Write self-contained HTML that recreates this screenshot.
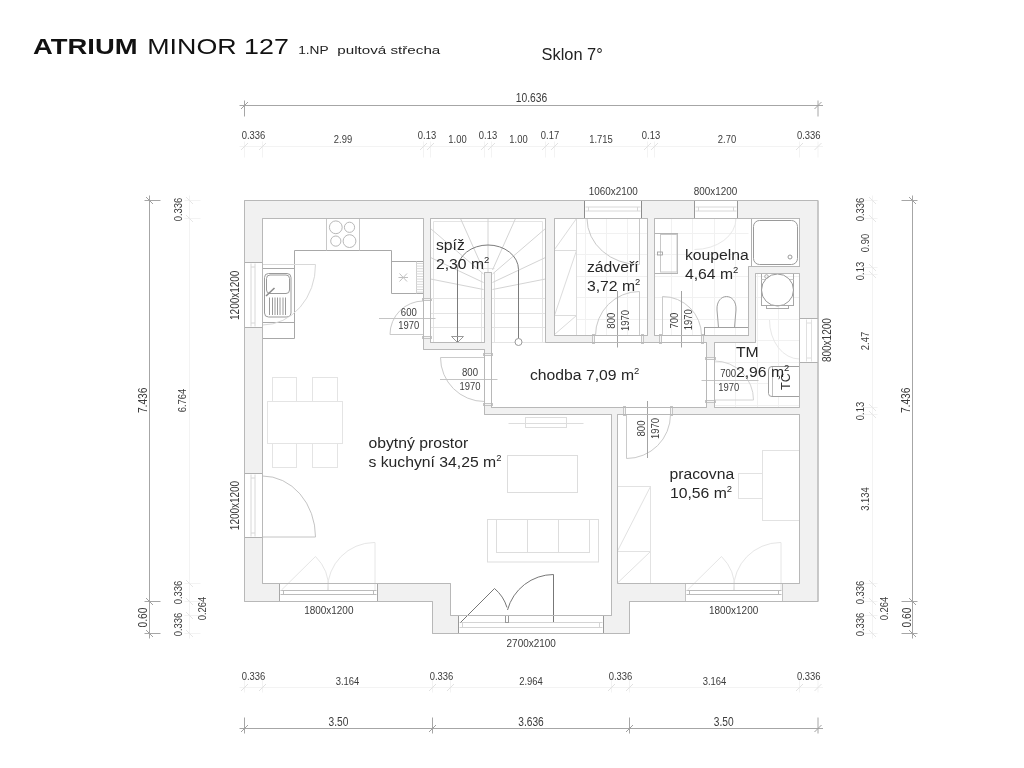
<!DOCTYPE html>
<html><head><meta charset="utf-8"><style>
html,body{margin:0;padding:0;background:#fff;width:1024px;height:768px;overflow:hidden}
svg{display:block;font-family:"Liberation Sans", sans-serif}
</style></head><body>
<div style="will-change:transform;width:1024px;height:768px"><svg width="1024" height="768" viewBox="0 0 1024 768">
<text x="33" y="54" font-size="22" text-anchor="start" fill="#111" font-weight="bold" textLength="104.5" lengthAdjust="spacingAndGlyphs">ATRIUM</text>
<text x="147.3" y="54.2" font-size="22" text-anchor="start" fill="#111" font-weight="normal" textLength="141.5" lengthAdjust="spacingAndGlyphs">MINOR 127</text>
<text x="298.2" y="54" font-size="11.8" text-anchor="start" fill="#222" font-weight="normal" textLength="30.5" lengthAdjust="spacingAndGlyphs">1.NP</text>
<text x="337.3" y="54" font-size="11.8" text-anchor="start" fill="#222" font-weight="normal" textLength="103" lengthAdjust="spacingAndGlyphs">pultová střecha</text>
<text x="541.5" y="59.8" font-size="16.4" text-anchor="start" fill="#222" font-weight="normal">Sklon 7°</text>
<line x1="239.5" y1="105.5" x2="823" y2="105.5" stroke="#a6a6a6" stroke-width="1"/>
<line x1="244.5" y1="100.5" x2="244.5" y2="116.5" stroke="#a6a6a6" stroke-width="1"/>
<line x1="241.0" y1="109.0" x2="248.0" y2="102.0" stroke="#a0a0a0" stroke-width="1"/>
<line x1="818" y1="100.5" x2="818" y2="116.5" stroke="#a6a6a6" stroke-width="1"/>
<line x1="814.5" y1="109.0" x2="821.5" y2="102.0" stroke="#a0a0a0" stroke-width="1"/>
<text x="531.5" y="102.3" font-size="12" text-anchor="middle" fill="#3c3c3c" font-weight="normal" textLength="31.5" lengthAdjust="spacingAndGlyphs">10.636</text>
<line x1="239.5" y1="146.5" x2="823" y2="146.5" stroke="#f3f3f3" stroke-width="1"/>
<line x1="244.5" y1="141.5" x2="244.5" y2="157.5" stroke="#f3f3f3" stroke-width="1"/>
<line x1="241.0" y1="150.0" x2="248.0" y2="143.0" stroke="#e2e2e2" stroke-width="1"/>
<line x1="262.5" y1="141.5" x2="262.5" y2="157.5" stroke="#f3f3f3" stroke-width="1"/>
<line x1="259.0" y1="150.0" x2="266.0" y2="143.0" stroke="#e2e2e2" stroke-width="1"/>
<line x1="423.5" y1="141.5" x2="423.5" y2="157.5" stroke="#f3f3f3" stroke-width="1"/>
<line x1="420.0" y1="150.0" x2="427.0" y2="143.0" stroke="#e2e2e2" stroke-width="1"/>
<line x1="430.5" y1="141.5" x2="430.5" y2="157.5" stroke="#f3f3f3" stroke-width="1"/>
<line x1="427.0" y1="150.0" x2="434.0" y2="143.0" stroke="#e2e2e2" stroke-width="1"/>
<line x1="484.5" y1="141.5" x2="484.5" y2="157.5" stroke="#f3f3f3" stroke-width="1"/>
<line x1="481.0" y1="150.0" x2="488.0" y2="143.0" stroke="#e2e2e2" stroke-width="1"/>
<line x1="491.5" y1="141.5" x2="491.5" y2="157.5" stroke="#f3f3f3" stroke-width="1"/>
<line x1="488.0" y1="150.0" x2="495.0" y2="143.0" stroke="#e2e2e2" stroke-width="1"/>
<line x1="545.5" y1="141.5" x2="545.5" y2="157.5" stroke="#f3f3f3" stroke-width="1"/>
<line x1="542.0" y1="150.0" x2="549.0" y2="143.0" stroke="#e2e2e2" stroke-width="1"/>
<line x1="554.5" y1="141.5" x2="554.5" y2="157.5" stroke="#f3f3f3" stroke-width="1"/>
<line x1="551.0" y1="150.0" x2="558.0" y2="143.0" stroke="#e2e2e2" stroke-width="1"/>
<line x1="647.5" y1="141.5" x2="647.5" y2="157.5" stroke="#f3f3f3" stroke-width="1"/>
<line x1="644.0" y1="150.0" x2="651.0" y2="143.0" stroke="#e2e2e2" stroke-width="1"/>
<line x1="654.5" y1="141.5" x2="654.5" y2="157.5" stroke="#f3f3f3" stroke-width="1"/>
<line x1="651.0" y1="150.0" x2="658.0" y2="143.0" stroke="#e2e2e2" stroke-width="1"/>
<line x1="799.5" y1="141.5" x2="799.5" y2="157.5" stroke="#f3f3f3" stroke-width="1"/>
<line x1="796.0" y1="150.0" x2="803.0" y2="143.0" stroke="#e2e2e2" stroke-width="1"/>
<line x1="818" y1="141.5" x2="818" y2="157.5" stroke="#f3f3f3" stroke-width="1"/>
<line x1="814.5" y1="150.0" x2="821.5" y2="143.0" stroke="#e2e2e2" stroke-width="1"/>
<text x="253.5" y="138.5" font-size="11" text-anchor="middle" fill="#3c3c3c" font-weight="normal" textLength="23.6" lengthAdjust="spacingAndGlyphs">0.336</text>
<text x="343.0" y="143" font-size="11" text-anchor="middle" fill="#3c3c3c" font-weight="normal" textLength="18.3" lengthAdjust="spacingAndGlyphs">2.99</text>
<text x="427.0" y="138.5" font-size="11" text-anchor="middle" fill="#3c3c3c" font-weight="normal" textLength="18.3" lengthAdjust="spacingAndGlyphs">0.13</text>
<text x="457.5" y="143" font-size="11" text-anchor="middle" fill="#3c3c3c" font-weight="normal" textLength="18.3" lengthAdjust="spacingAndGlyphs">1.00</text>
<text x="488.0" y="138.5" font-size="11" text-anchor="middle" fill="#3c3c3c" font-weight="normal" textLength="18.3" lengthAdjust="spacingAndGlyphs">0.13</text>
<text x="518.5" y="143" font-size="11" text-anchor="middle" fill="#3c3c3c" font-weight="normal" textLength="18.3" lengthAdjust="spacingAndGlyphs">1.00</text>
<text x="550.0" y="138.5" font-size="11" text-anchor="middle" fill="#3c3c3c" font-weight="normal" textLength="18.3" lengthAdjust="spacingAndGlyphs">0.17</text>
<text x="601.0" y="143" font-size="11" text-anchor="middle" fill="#3c3c3c" font-weight="normal" textLength="23.6" lengthAdjust="spacingAndGlyphs">1.715</text>
<text x="651.0" y="138.5" font-size="11" text-anchor="middle" fill="#3c3c3c" font-weight="normal" textLength="18.3" lengthAdjust="spacingAndGlyphs">0.13</text>
<text x="727.0" y="143" font-size="11" text-anchor="middle" fill="#3c3c3c" font-weight="normal" textLength="18.3" lengthAdjust="spacingAndGlyphs">2.70</text>
<text x="808.75" y="138.5" font-size="11" text-anchor="middle" fill="#3c3c3c" font-weight="normal" textLength="23.6" lengthAdjust="spacingAndGlyphs">0.336</text>
<line x1="239.5" y1="687.5" x2="823" y2="687.5" stroke="#f3f3f3" stroke-width="1"/>
<line x1="244.5" y1="676.5" x2="244.5" y2="692.5" stroke="#f3f3f3" stroke-width="1"/>
<line x1="241.0" y1="691.0" x2="248.0" y2="684.0" stroke="#e2e2e2" stroke-width="1"/>
<line x1="262.5" y1="676.5" x2="262.5" y2="692.5" stroke="#f3f3f3" stroke-width="1"/>
<line x1="259.0" y1="691.0" x2="266.0" y2="684.0" stroke="#e2e2e2" stroke-width="1"/>
<line x1="432.5" y1="676.5" x2="432.5" y2="692.5" stroke="#f3f3f3" stroke-width="1"/>
<line x1="429.0" y1="691.0" x2="436.0" y2="684.0" stroke="#e2e2e2" stroke-width="1"/>
<line x1="450.5" y1="676.5" x2="450.5" y2="692.5" stroke="#f3f3f3" stroke-width="1"/>
<line x1="447.0" y1="691.0" x2="454.0" y2="684.0" stroke="#e2e2e2" stroke-width="1"/>
<line x1="611.5" y1="676.5" x2="611.5" y2="692.5" stroke="#f3f3f3" stroke-width="1"/>
<line x1="608.0" y1="691.0" x2="615.0" y2="684.0" stroke="#e2e2e2" stroke-width="1"/>
<line x1="629.5" y1="676.5" x2="629.5" y2="692.5" stroke="#f3f3f3" stroke-width="1"/>
<line x1="626.0" y1="691.0" x2="633.0" y2="684.0" stroke="#e2e2e2" stroke-width="1"/>
<line x1="799.5" y1="676.5" x2="799.5" y2="692.5" stroke="#f3f3f3" stroke-width="1"/>
<line x1="796.0" y1="691.0" x2="803.0" y2="684.0" stroke="#e2e2e2" stroke-width="1"/>
<line x1="818" y1="676.5" x2="818" y2="692.5" stroke="#f3f3f3" stroke-width="1"/>
<line x1="814.5" y1="691.0" x2="821.5" y2="684.0" stroke="#e2e2e2" stroke-width="1"/>
<text x="253.5" y="680.4" font-size="11" text-anchor="middle" fill="#3c3c3c" font-weight="normal" textLength="23.6" lengthAdjust="spacingAndGlyphs">0.336</text>
<text x="347.5" y="685.1" font-size="11" text-anchor="middle" fill="#3c3c3c" font-weight="normal" textLength="23.6" lengthAdjust="spacingAndGlyphs">3.164</text>
<text x="441.5" y="680.4" font-size="11" text-anchor="middle" fill="#3c3c3c" font-weight="normal" textLength="23.6" lengthAdjust="spacingAndGlyphs">0.336</text>
<text x="531.0" y="685.1" font-size="11" text-anchor="middle" fill="#3c3c3c" font-weight="normal" textLength="23.6" lengthAdjust="spacingAndGlyphs">2.964</text>
<text x="620.5" y="680.4" font-size="11" text-anchor="middle" fill="#3c3c3c" font-weight="normal" textLength="23.6" lengthAdjust="spacingAndGlyphs">0.336</text>
<text x="714.5" y="685.1" font-size="11" text-anchor="middle" fill="#3c3c3c" font-weight="normal" textLength="23.6" lengthAdjust="spacingAndGlyphs">3.164</text>
<text x="808.75" y="680.4" font-size="11" text-anchor="middle" fill="#3c3c3c" font-weight="normal" textLength="23.6" lengthAdjust="spacingAndGlyphs">0.336</text>
<line x1="239.5" y1="728.5" x2="823" y2="728.5" stroke="#a6a6a6" stroke-width="1"/>
<line x1="244.5" y1="717.5" x2="244.5" y2="733.5" stroke="#a6a6a6" stroke-width="1"/>
<line x1="241.0" y1="732.0" x2="248.0" y2="725.0" stroke="#a0a0a0" stroke-width="1"/>
<line x1="432.5" y1="717.5" x2="432.5" y2="733.5" stroke="#a6a6a6" stroke-width="1"/>
<line x1="429.0" y1="732.0" x2="436.0" y2="725.0" stroke="#a0a0a0" stroke-width="1"/>
<line x1="629.5" y1="717.5" x2="629.5" y2="733.5" stroke="#a6a6a6" stroke-width="1"/>
<line x1="626.0" y1="732.0" x2="633.0" y2="725.0" stroke="#a0a0a0" stroke-width="1"/>
<line x1="818" y1="717.5" x2="818" y2="733.5" stroke="#a6a6a6" stroke-width="1"/>
<line x1="814.5" y1="732.0" x2="821.5" y2="725.0" stroke="#a0a0a0" stroke-width="1"/>
<text x="338.5" y="725.8" font-size="12" text-anchor="middle" fill="#3c3c3c" font-weight="normal" textLength="19.8" lengthAdjust="spacingAndGlyphs">3.50</text>
<text x="531.0" y="725.8" font-size="12" text-anchor="middle" fill="#3c3c3c" font-weight="normal" textLength="25.5" lengthAdjust="spacingAndGlyphs">3.636</text>
<text x="723.75" y="725.8" font-size="12" text-anchor="middle" fill="#3c3c3c" font-weight="normal" textLength="19.8" lengthAdjust="spacingAndGlyphs">3.50</text>
<line x1="189.5" y1="195.5" x2="189.5" y2="638.5" stroke="#f3f3f3" stroke-width="1"/>
<line x1="184.5" y1="200.5" x2="200.5" y2="200.5" stroke="#f3f3f3" stroke-width="1"/>
<line x1="186.0" y1="197.0" x2="193.0" y2="204.0" stroke="#e6e6e6" stroke-width="1"/>
<line x1="184.5" y1="218.5" x2="200.5" y2="218.5" stroke="#f3f3f3" stroke-width="1"/>
<line x1="186.0" y1="215.0" x2="193.0" y2="222.0" stroke="#e6e6e6" stroke-width="1"/>
<line x1="184.5" y1="583.5" x2="200.5" y2="583.5" stroke="#f3f3f3" stroke-width="1"/>
<line x1="186.0" y1="580.0" x2="193.0" y2="587.0" stroke="#e6e6e6" stroke-width="1"/>
<line x1="184.5" y1="601.5" x2="200.5" y2="601.5" stroke="#f3f3f3" stroke-width="1"/>
<line x1="186.0" y1="598.0" x2="193.0" y2="605.0" stroke="#e6e6e6" stroke-width="1"/>
<line x1="184.5" y1="615.5" x2="200.5" y2="615.5" stroke="#f3f3f3" stroke-width="1"/>
<line x1="186.0" y1="612.0" x2="193.0" y2="619.0" stroke="#e6e6e6" stroke-width="1"/>
<line x1="184.5" y1="633.5" x2="200.5" y2="633.5" stroke="#f3f3f3" stroke-width="1"/>
<line x1="186.0" y1="630.0" x2="193.0" y2="637.0" stroke="#e6e6e6" stroke-width="1"/>
<line x1="149.5" y1="195.5" x2="149.5" y2="638.5" stroke="#a6a6a6" stroke-width="1"/>
<line x1="144.5" y1="200.5" x2="160.5" y2="200.5" stroke="#a6a6a6" stroke-width="1"/>
<line x1="146.0" y1="197.0" x2="153.0" y2="204.0" stroke="#a0a0a0" stroke-width="1"/>
<line x1="144.5" y1="601.5" x2="160.5" y2="601.5" stroke="#a6a6a6" stroke-width="1"/>
<line x1="146.0" y1="598.0" x2="153.0" y2="605.0" stroke="#a0a0a0" stroke-width="1"/>
<line x1="144.5" y1="633.5" x2="160.5" y2="633.5" stroke="#a6a6a6" stroke-width="1"/>
<line x1="146.0" y1="630.0" x2="153.0" y2="637.0" stroke="#a0a0a0" stroke-width="1"/>
<text x="0" y="0" font-size="12" text-anchor="middle" fill="#3c3c3c" textLength="25.5" lengthAdjust="spacingAndGlyphs" transform="translate(142.7,400.3) rotate(-90)" dy="4.32">7.436</text>
<text x="0" y="0" font-size="12" text-anchor="middle" fill="#3c3c3c" textLength="19.8" lengthAdjust="spacingAndGlyphs" transform="translate(142.7,617.5) rotate(-90)" dy="4.32">0.60</text>
<text x="0" y="0" font-size="11" text-anchor="middle" fill="#3c3c3c" textLength="23.6" lengthAdjust="spacingAndGlyphs" transform="translate(178,209.5) rotate(-90)" dy="3.96">0.336</text>
<text x="0" y="0" font-size="11" text-anchor="middle" fill="#3c3c3c" textLength="23.6" lengthAdjust="spacingAndGlyphs" transform="translate(182.5,400.5) rotate(-90)" dy="3.96">6.764</text>
<text x="0" y="0" font-size="11" text-anchor="middle" fill="#3c3c3c" textLength="23.6" lengthAdjust="spacingAndGlyphs" transform="translate(178,592.5) rotate(-90)" dy="3.96">0.336</text>
<text x="0" y="0" font-size="11" text-anchor="middle" fill="#3c3c3c" textLength="23.6" lengthAdjust="spacingAndGlyphs" transform="translate(202.5,608.5) rotate(-90)" dy="3.96">0.264</text>
<text x="0" y="0" font-size="11" text-anchor="middle" fill="#3c3c3c" textLength="23.6" lengthAdjust="spacingAndGlyphs" transform="translate(178,624.5) rotate(-90)" dy="3.96">0.336</text>
<line x1="872.5" y1="195.5" x2="872.5" y2="638.5" stroke="#f3f3f3" stroke-width="1"/>
<line x1="861.5" y1="200.5" x2="877.5" y2="200.5" stroke="#f3f3f3" stroke-width="1"/>
<line x1="869.0" y1="197.0" x2="876.0" y2="204.0" stroke="#e6e6e6" stroke-width="1"/>
<line x1="861.5" y1="218.5" x2="877.5" y2="218.5" stroke="#f3f3f3" stroke-width="1"/>
<line x1="869.0" y1="215.0" x2="876.0" y2="222.0" stroke="#e6e6e6" stroke-width="1"/>
<line x1="861.5" y1="267.5" x2="877.5" y2="267.5" stroke="#f3f3f3" stroke-width="1"/>
<line x1="869.0" y1="264.0" x2="876.0" y2="271.0" stroke="#e6e6e6" stroke-width="1"/>
<line x1="861.5" y1="274.5" x2="877.5" y2="274.5" stroke="#f3f3f3" stroke-width="1"/>
<line x1="869.0" y1="271.0" x2="876.0" y2="278.0" stroke="#e6e6e6" stroke-width="1"/>
<line x1="861.5" y1="407.5" x2="877.5" y2="407.5" stroke="#f3f3f3" stroke-width="1"/>
<line x1="869.0" y1="404.0" x2="876.0" y2="411.0" stroke="#e6e6e6" stroke-width="1"/>
<line x1="861.5" y1="414.5" x2="877.5" y2="414.5" stroke="#f3f3f3" stroke-width="1"/>
<line x1="869.0" y1="411.0" x2="876.0" y2="418.0" stroke="#e6e6e6" stroke-width="1"/>
<line x1="861.5" y1="583.5" x2="877.5" y2="583.5" stroke="#f3f3f3" stroke-width="1"/>
<line x1="869.0" y1="580.0" x2="876.0" y2="587.0" stroke="#e6e6e6" stroke-width="1"/>
<line x1="861.5" y1="601.5" x2="877.5" y2="601.5" stroke="#f3f3f3" stroke-width="1"/>
<line x1="869.0" y1="598.0" x2="876.0" y2="605.0" stroke="#e6e6e6" stroke-width="1"/>
<line x1="861.5" y1="615.5" x2="877.5" y2="615.5" stroke="#f3f3f3" stroke-width="1"/>
<line x1="869.0" y1="612.0" x2="876.0" y2="619.0" stroke="#e6e6e6" stroke-width="1"/>
<line x1="861.5" y1="633.5" x2="877.5" y2="633.5" stroke="#f3f3f3" stroke-width="1"/>
<line x1="869.0" y1="630.0" x2="876.0" y2="637.0" stroke="#e6e6e6" stroke-width="1"/>
<line x1="912.5" y1="195.5" x2="912.5" y2="638.5" stroke="#a6a6a6" stroke-width="1"/>
<line x1="901.5" y1="200.5" x2="917.5" y2="200.5" stroke="#a6a6a6" stroke-width="1"/>
<line x1="909.0" y1="197.0" x2="916.0" y2="204.0" stroke="#a0a0a0" stroke-width="1"/>
<line x1="901.5" y1="601.5" x2="917.5" y2="601.5" stroke="#a6a6a6" stroke-width="1"/>
<line x1="909.0" y1="598.0" x2="916.0" y2="605.0" stroke="#a0a0a0" stroke-width="1"/>
<line x1="901.5" y1="633.5" x2="917.5" y2="633.5" stroke="#a6a6a6" stroke-width="1"/>
<line x1="909.0" y1="630.0" x2="916.0" y2="637.0" stroke="#a0a0a0" stroke-width="1"/>
<text x="0" y="0" font-size="12" text-anchor="middle" fill="#3c3c3c" textLength="25.5" lengthAdjust="spacingAndGlyphs" transform="translate(905.7,400.3) rotate(-90)" dy="4.32">7.436</text>
<text x="0" y="0" font-size="12" text-anchor="middle" fill="#3c3c3c" textLength="19.8" lengthAdjust="spacingAndGlyphs" transform="translate(906.2,617.5) rotate(-90)" dy="4.32">0.60</text>
<text x="0" y="0" font-size="11" text-anchor="middle" fill="#3c3c3c" textLength="23.6" lengthAdjust="spacingAndGlyphs" transform="translate(860.5,209.5) rotate(-90)" dy="3.96">0.336</text>
<text x="0" y="0" font-size="11" text-anchor="middle" fill="#3c3c3c" textLength="18.3" lengthAdjust="spacingAndGlyphs" transform="translate(865,243.0) rotate(-90)" dy="3.96">0.90</text>
<text x="0" y="0" font-size="11" text-anchor="middle" fill="#3c3c3c" textLength="18.3" lengthAdjust="spacingAndGlyphs" transform="translate(860.5,271.0) rotate(-90)" dy="3.96">0.13</text>
<text x="0" y="0" font-size="11" text-anchor="middle" fill="#3c3c3c" textLength="18.3" lengthAdjust="spacingAndGlyphs" transform="translate(865,341.0) rotate(-90)" dy="3.96">2.47</text>
<text x="0" y="0" font-size="11" text-anchor="middle" fill="#3c3c3c" textLength="18.3" lengthAdjust="spacingAndGlyphs" transform="translate(860.5,411.0) rotate(-90)" dy="3.96">0.13</text>
<text x="0" y="0" font-size="11" text-anchor="middle" fill="#3c3c3c" textLength="23.6" lengthAdjust="spacingAndGlyphs" transform="translate(865,499.0) rotate(-90)" dy="3.96">3.134</text>
<text x="0" y="0" font-size="11" text-anchor="middle" fill="#3c3c3c" textLength="23.6" lengthAdjust="spacingAndGlyphs" transform="translate(860.5,592.5) rotate(-90)" dy="3.96">0.336</text>
<text x="0" y="0" font-size="11" text-anchor="middle" fill="#3c3c3c" textLength="23.6" lengthAdjust="spacingAndGlyphs" transform="translate(860.5,624.5) rotate(-90)" dy="3.96">0.336</text>
<text x="0" y="0" font-size="11" text-anchor="middle" fill="#3c3c3c" textLength="23.6" lengthAdjust="spacingAndGlyphs" transform="translate(884,608.5) rotate(-90)" dy="3.96">0.264</text>
<polygon points="244.5,200.5 818,200.5 818,601.5 629.5,601.5 629.5,633.5 432.5,633.5 432.5,601.5 244.5,601.5" fill="#f1f1f1" stroke="#b8b8b8" stroke-width="1"/>
<polygon points="262.5,218.5 423.5,218.5 423.5,349.5 484.5,349.5 484.5,414.5 611.5,414.5 611.5,615.5 450.5,615.5 450.5,583.5 262.5,583.5" fill="#fff" stroke="#b8b8b8" stroke-width="1"/>
<polygon points="430.5,218.5 545.5,218.5 545.5,342.5 706.5,342.5 706.5,407.5 491.5,407.5 491.5,272.5 484.5,272.5 484.5,342.5 430.5,342.5" fill="#fff" stroke="#b8b8b8" stroke-width="1"/>
<polygon points="554.5,218.5 647.5,218.5 647.5,335.5 554.5,335.5" fill="#fff" stroke="#b8b8b8" stroke-width="1"/>
<polygon points="654.5,218.5 799.5,218.5 799.5,266.5 748.5,266.5 748.5,335.5 654.5,335.5" fill="#fff" stroke="#b8b8b8" stroke-width="1"/>
<polygon points="755.5,273.5 799.5,273.5 799.5,407.5 714.5,407.5 714.5,342.5 755.5,342.5" fill="#fff" stroke="#b8b8b8" stroke-width="1"/>
<polygon points="617.5,414.5 799.5,414.5 799.5,583.5 617.5,583.5" fill="#fff" stroke="#b8b8b8" stroke-width="1"/>
<rect x="245.0" y="262.5" width="17.0" height="65.0" fill="#fff"/>
<line x1="244.5" y1="262.5" x2="262.5" y2="262.5" stroke="#b0b0b0" stroke-width="1"/>
<line x1="244.5" y1="327.5" x2="262.5" y2="327.5" stroke="#b0b0b0" stroke-width="1"/>
<line x1="251.0" y1="263.5" x2="251.0" y2="326.5" stroke="#d8d8d8" stroke-width="1"/>
<line x1="255.0" y1="263.5" x2="255.0" y2="326.5" stroke="#d8d8d8" stroke-width="1"/>
<line x1="251.0" y1="267.0" x2="255.0" y2="267.0" stroke="#d8d8d8" stroke-width="1"/>
<line x1="251.0" y1="323.0" x2="255.0" y2="323.0" stroke="#d8d8d8" stroke-width="1"/>
<rect x="245.0" y="473.5" width="17.0" height="64.0" fill="#fff"/>
<line x1="244.5" y1="473.5" x2="262.5" y2="473.5" stroke="#b0b0b0" stroke-width="1"/>
<line x1="244.5" y1="537.5" x2="262.5" y2="537.5" stroke="#b0b0b0" stroke-width="1"/>
<line x1="251.0" y1="474.5" x2="251.0" y2="536.5" stroke="#d8d8d8" stroke-width="1"/>
<line x1="255.0" y1="474.5" x2="255.0" y2="536.5" stroke="#d8d8d8" stroke-width="1"/>
<line x1="251.0" y1="478.0" x2="255.0" y2="478.0" stroke="#d8d8d8" stroke-width="1"/>
<line x1="251.0" y1="533.0" x2="255.0" y2="533.0" stroke="#d8d8d8" stroke-width="1"/>
<rect x="800.0" y="318.5" width="17.5" height="44.0" fill="#fff"/>
<line x1="799.5" y1="318.5" x2="818" y2="318.5" stroke="#b0b0b0" stroke-width="1"/>
<line x1="799.5" y1="362.5" x2="818" y2="362.5" stroke="#b0b0b0" stroke-width="1"/>
<line x1="806.5" y1="319.5" x2="806.5" y2="361.5" stroke="#e0e0e0" stroke-width="1"/>
<line x1="811.5" y1="319.5" x2="811.5" y2="361.5" stroke="#e0e0e0" stroke-width="1"/>
<line x1="806.5" y1="323.0" x2="811.5" y2="323.0" stroke="#e0e0e0" stroke-width="1"/>
<line x1="806.5" y1="358.0" x2="811.5" y2="358.0" stroke="#e0e0e0" stroke-width="1"/>
<rect x="279.5" y="584.0" width="98.0" height="17.0" fill="#fff"/>
<line x1="279.5" y1="583.5" x2="279.5" y2="601.5" stroke="#a8a8a8" stroke-width="1"/>
<line x1="377.5" y1="583.5" x2="377.5" y2="601.5" stroke="#a8a8a8" stroke-width="1"/>
<line x1="280.5" y1="590.5" x2="376.5" y2="590.5" stroke="#bcbcbc" stroke-width="1"/>
<line x1="280.5" y1="594.5" x2="376.5" y2="594.5" stroke="#bcbcbc" stroke-width="1"/>
<line x1="283.5" y1="590.5" x2="283.5" y2="594.5" stroke="#bcbcbc" stroke-width="1"/>
<line x1="373.5" y1="590.5" x2="373.5" y2="594.5" stroke="#bcbcbc" stroke-width="1"/>
<rect x="685.5" y="584.0" width="97.0" height="17.0" fill="#fff"/>
<line x1="685.5" y1="583.5" x2="685.5" y2="601.5" stroke="#c4c4c4" stroke-width="1"/>
<line x1="782.5" y1="583.5" x2="782.5" y2="601.5" stroke="#c4c4c4" stroke-width="1"/>
<line x1="686.5" y1="590.5" x2="781.5" y2="590.5" stroke="#bcbcbc" stroke-width="1"/>
<line x1="686.5" y1="594.5" x2="781.5" y2="594.5" stroke="#bcbcbc" stroke-width="1"/>
<line x1="689.5" y1="590.5" x2="689.5" y2="594.5" stroke="#bcbcbc" stroke-width="1"/>
<line x1="778.5" y1="590.5" x2="778.5" y2="594.5" stroke="#bcbcbc" stroke-width="1"/>
<rect x="694.5" y="201.0" width="43.0" height="17.0" fill="#fff"/>
<line x1="694.5" y1="200.5" x2="694.5" y2="218.5" stroke="#999999" stroke-width="1"/>
<line x1="737.5" y1="200.5" x2="737.5" y2="218.5" stroke="#999999" stroke-width="1"/>
<line x1="695.5" y1="207.0" x2="736.5" y2="207.0" stroke="#d8d8d8" stroke-width="1"/>
<line x1="695.5" y1="211.0" x2="736.5" y2="211.0" stroke="#d8d8d8" stroke-width="1"/>
<line x1="698.5" y1="207.0" x2="698.5" y2="211.0" stroke="#d8d8d8" stroke-width="1"/>
<line x1="733.5" y1="207.0" x2="733.5" y2="211.0" stroke="#d8d8d8" stroke-width="1"/>
<rect x="584.5" y="201.0" width="57.0" height="17.0" fill="#fff"/>
<line x1="584.5" y1="200.5" x2="584.5" y2="218.5" stroke="#8c8c8c" stroke-width="1"/>
<line x1="641.5" y1="200.5" x2="641.5" y2="218.5" stroke="#8c8c8c" stroke-width="1"/>
<line x1="585.5" y1="207.0" x2="640.5" y2="207.0" stroke="#d8d8d8" stroke-width="1"/>
<line x1="585.5" y1="211.0" x2="640.5" y2="211.0" stroke="#d8d8d8" stroke-width="1"/>
<line x1="588.5" y1="207.0" x2="588.5" y2="211.0" stroke="#d8d8d8" stroke-width="1"/>
<line x1="637.5" y1="207.0" x2="637.5" y2="211.0" stroke="#d8d8d8" stroke-width="1"/>
<rect x="458.5" y="616.0" width="145.0" height="17.0" fill="#fff"/>
<line x1="458.5" y1="615.5" x2="458.5" y2="633.5" stroke="#9a9a9a" stroke-width="1"/>
<line x1="603.5" y1="615.5" x2="603.5" y2="633.5" stroke="#9a9a9a" stroke-width="1"/>
<line x1="459.5" y1="622.5" x2="602.5" y2="622.5" stroke="#d4d4d4" stroke-width="1"/>
<line x1="459.5" y1="627.5" x2="602.5" y2="627.5" stroke="#d4d4d4" stroke-width="1"/>
<line x1="462.5" y1="622.5" x2="462.5" y2="627.5" stroke="#d4d4d4" stroke-width="1"/>
<line x1="599.5" y1="622.5" x2="599.5" y2="627.5" stroke="#d4d4d4" stroke-width="1"/>
<rect x="424.0" y="298.5" width="6.0" height="40.0" fill="#fff"/>
<rect x="422.5" y="298.5" width="9.0" height="2" fill="#f4f4f4" stroke="#c4c4c4" stroke-width="1"/>
<rect x="422.5" y="336.5" width="9.0" height="2" fill="#f4f4f4" stroke="#c4c4c4" stroke-width="1"/>
<rect x="485.0" y="353.5" width="6.0" height="52.0" fill="#fff"/>
<rect x="483.5" y="353.5" width="9.0" height="2" fill="#f4f4f4" stroke="#c4c4c4" stroke-width="1"/>
<rect x="483.5" y="403.5" width="9.0" height="2" fill="#f4f4f4" stroke="#c4c4c4" stroke-width="1"/>
<rect x="592.5" y="336.0" width="51.0" height="6.0" fill="#fff"/>
<rect x="592.5" y="334.5" width="2" height="9.0" fill="#f4f4f4" stroke="#c4c4c4" stroke-width="1"/>
<rect x="641.5" y="334.5" width="2" height="9.0" fill="#f4f4f4" stroke="#c4c4c4" stroke-width="1"/>
<rect x="659.5" y="336.0" width="44.0" height="6.0" fill="#fff"/>
<rect x="659.5" y="334.5" width="2" height="9.0" fill="#f4f4f4" stroke="#c4c4c4" stroke-width="1"/>
<rect x="701.5" y="334.5" width="2" height="9.0" fill="#f4f4f4" stroke="#c4c4c4" stroke-width="1"/>
<rect x="707.0" y="357.5" width="7.0" height="45.0" fill="#fff"/>
<rect x="705.5" y="357.5" width="10.0" height="2" fill="#f4f4f4" stroke="#c4c4c4" stroke-width="1"/>
<rect x="705.5" y="400.5" width="10.0" height="2" fill="#f4f4f4" stroke="#c4c4c4" stroke-width="1"/>
<rect x="623.5" y="408.0" width="49.0" height="6.0" fill="#fff"/>
<rect x="623.5" y="406.5" width="2" height="9.0" fill="#f4f4f4" stroke="#c4c4c4" stroke-width="1"/>
<rect x="670.5" y="406.5" width="2" height="9.0" fill="#f4f4f4" stroke="#c4c4c4" stroke-width="1"/>
<line x1="585.5" y1="218.5" x2="585.5" y2="335.5" stroke="#f1f1f1" stroke-width="1"/>
<line x1="606.5" y1="218.5" x2="606.5" y2="335.5" stroke="#f1f1f1" stroke-width="1"/>
<line x1="627.5" y1="218.5" x2="627.5" y2="335.5" stroke="#f1f1f1" stroke-width="1"/>
<line x1="576.5" y1="233.5" x2="647.5" y2="233.5" stroke="#f1f1f1" stroke-width="1"/>
<line x1="576.5" y1="254.5" x2="647.5" y2="254.5" stroke="#f1f1f1" stroke-width="1"/>
<line x1="576.5" y1="276.5" x2="647.5" y2="276.5" stroke="#f1f1f1" stroke-width="1"/>
<line x1="576.5" y1="297.5" x2="647.5" y2="297.5" stroke="#f1f1f1" stroke-width="1"/>
<line x1="576.5" y1="319.5" x2="647.5" y2="319.5" stroke="#f1f1f1" stroke-width="1"/>
<line x1="671.5" y1="218.5" x2="671.5" y2="335.5" stroke="#f1f1f1" stroke-width="1"/>
<line x1="692.5" y1="218.5" x2="692.5" y2="335.5" stroke="#f1f1f1" stroke-width="1"/>
<line x1="714.5" y1="218.5" x2="714.5" y2="335.5" stroke="#f1f1f1" stroke-width="1"/>
<line x1="735.5" y1="218.5" x2="735.5" y2="335.5" stroke="#f1f1f1" stroke-width="1"/>
<line x1="654.5" y1="233.5" x2="748.5" y2="233.5" stroke="#f1f1f1" stroke-width="1"/>
<line x1="654.5" y1="254.5" x2="748.5" y2="254.5" stroke="#f1f1f1" stroke-width="1"/>
<line x1="654.5" y1="276.5" x2="748.5" y2="276.5" stroke="#f1f1f1" stroke-width="1"/>
<line x1="654.5" y1="297.5" x2="748.5" y2="297.5" stroke="#f1f1f1" stroke-width="1"/>
<line x1="654.5" y1="319.5" x2="748.5" y2="319.5" stroke="#f1f1f1" stroke-width="1"/>
<line x1="757.5" y1="273.5" x2="757.5" y2="342.5" stroke="#f1f1f1" stroke-width="1"/>
<line x1="778.5" y1="273.5" x2="778.5" y2="342.5" stroke="#f1f1f1" stroke-width="1"/>
<line x1="755.5" y1="276.5" x2="799.5" y2="276.5" stroke="#f1f1f1" stroke-width="1"/>
<line x1="755.5" y1="297.5" x2="799.5" y2="297.5" stroke="#f1f1f1" stroke-width="1"/>
<line x1="755.5" y1="319.5" x2="799.5" y2="319.5" stroke="#f1f1f1" stroke-width="1"/>
<line x1="755.5" y1="340.5" x2="799.5" y2="340.5" stroke="#f1f1f1" stroke-width="1"/>
<line x1="735.5" y1="342.5" x2="735.5" y2="407.5" stroke="#f1f1f1" stroke-width="1"/>
<line x1="757.5" y1="342.5" x2="757.5" y2="407.5" stroke="#f1f1f1" stroke-width="1"/>
<line x1="778.5" y1="342.5" x2="778.5" y2="407.5" stroke="#f1f1f1" stroke-width="1"/>
<line x1="714.5" y1="362.5" x2="799.5" y2="362.5" stroke="#f1f1f1" stroke-width="1"/>
<line x1="714.5" y1="383.5" x2="799.5" y2="383.5" stroke="#f1f1f1" stroke-width="1"/>
<line x1="714.5" y1="405.5" x2="799.5" y2="405.5" stroke="#f1f1f1" stroke-width="1"/>
<line x1="433.5" y1="221.5" x2="433.5" y2="342.5" stroke="#e4e4e4" stroke-width="1"/>
<line x1="433.5" y1="221.5" x2="542.5" y2="221.5" stroke="#e4e4e4" stroke-width="1"/>
<line x1="542.5" y1="221.5" x2="542.5" y2="342.5" stroke="#e4e4e4" stroke-width="1"/>
<line x1="481.5" y1="272.5" x2="481.5" y2="342.5" stroke="#e4e4e4" stroke-width="1"/>
<line x1="494.5" y1="272.5" x2="494.5" y2="342.5" stroke="#e4e4e4" stroke-width="1"/>
<line x1="481.5" y1="268.5" x2="494.5" y2="268.5" stroke="#e4e4e4" stroke-width="1"/>
<line x1="430.5" y1="298.5" x2="484.5" y2="298.5" stroke="#e4e4e4" stroke-width="1"/>
<line x1="491.5" y1="298.5" x2="545.5" y2="298.5" stroke="#e4e4e4" stroke-width="1"/>
<line x1="430.5" y1="313.5" x2="484.5" y2="313.5" stroke="#e4e4e4" stroke-width="1"/>
<line x1="491.5" y1="313.5" x2="545.5" y2="313.5" stroke="#e4e4e4" stroke-width="1"/>
<line x1="430.5" y1="327.5" x2="484.5" y2="327.5" stroke="#e4e4e4" stroke-width="1"/>
<line x1="491.5" y1="327.5" x2="545.5" y2="327.5" stroke="#e4e4e4" stroke-width="1"/>
<line x1="430.5" y1="228.5" x2="483.5" y2="274" stroke="#d4d4d4" stroke-width="1"/>
<line x1="430.5" y1="257.5" x2="483.5" y2="282.5" stroke="#d4d4d4" stroke-width="1"/>
<line x1="430.5" y1="279" x2="483.5" y2="289.5" stroke="#d4d4d4" stroke-width="1"/>
<line x1="460.5" y1="218.5" x2="483.5" y2="270" stroke="#d4d4d4" stroke-width="1"/>
<line x1="488" y1="218.5" x2="488" y2="272" stroke="#d4d4d4" stroke-width="1"/>
<line x1="515.5" y1="218.5" x2="492.5" y2="270" stroke="#d4d4d4" stroke-width="1"/>
<line x1="545.5" y1="228.5" x2="492.5" y2="274" stroke="#d4d4d4" stroke-width="1"/>
<line x1="545.5" y1="257.5" x2="492.5" y2="282.5" stroke="#d4d4d4" stroke-width="1"/>
<line x1="545.5" y1="279" x2="492.5" y2="289.5" stroke="#d4d4d4" stroke-width="1"/>
<path d="M457.5,342 L457.5,269.5 A30.5,24.5 0 0 1 518.5,269.5 L518.5,338.5" fill="none" stroke="#7c7c7c" stroke-width="1"/>
<path d="M451.5,336.5 L463.5,336.5 L457.5,342.5 Z" fill="none" stroke="#9a9a9a" stroke-width="1"/>
<line x1="491.5" y1="342.5" x2="545.5" y2="342.5" stroke="#e4e4e4" stroke-width="1"/>
<circle cx="518.5" cy="342" r="3.5" fill="#fff" stroke="#9a9a9a" stroke-width="1"/>
<line x1="294.5" y1="250.5" x2="391.5" y2="250.5" stroke="#a8a8a8" stroke-width="1"/>
<line x1="294.5" y1="250.5" x2="294.5" y2="338.5" stroke="#a8a8a8" stroke-width="1"/>
<line x1="262.5" y1="338.5" x2="294.5" y2="338.5" stroke="#a8a8a8" stroke-width="1"/>
<line x1="262.5" y1="268.5" x2="294.5" y2="268.5" stroke="#a8a8a8" stroke-width="1"/>
<line x1="262.5" y1="322.5" x2="294.5" y2="322.5" stroke="#a8a8a8" stroke-width="1"/>
<line x1="326.5" y1="218.5" x2="326.5" y2="250.5" stroke="#c8c8c8" stroke-width="1"/>
<line x1="359.5" y1="218.5" x2="359.5" y2="250.5" stroke="#c8c8c8" stroke-width="1"/>
<circle cx="335.8" cy="227.3" r="6.4" fill="none" stroke="#b8b8b8" stroke-width="1"/>
<circle cx="349.5" cy="227.3" r="5.1" fill="none" stroke="#b8b8b8" stroke-width="1"/>
<circle cx="335.8" cy="241.1" r="5.1" fill="none" stroke="#b8b8b8" stroke-width="1"/>
<circle cx="349.5" cy="241.1" r="6.4" fill="none" stroke="#b8b8b8" stroke-width="1"/>
<line x1="391.5" y1="250.5" x2="391.5" y2="293.5" stroke="#a8a8a8" stroke-width="1"/>
<line x1="391.5" y1="261.5" x2="423.5" y2="261.5" stroke="#a8a8a8" stroke-width="1"/>
<line x1="391.5" y1="293.5" x2="423.5" y2="293.5" stroke="#a8a8a8" stroke-width="1"/>
<line x1="416.5" y1="261.5" x2="416.5" y2="293.5" stroke="#d0d0d0" stroke-width="1"/>
<line x1="416.5" y1="263.5" x2="423.5" y2="263.5" stroke="#dadada" stroke-width="1"/>
<line x1="416.5" y1="266.1" x2="423.5" y2="266.1" stroke="#dadada" stroke-width="1"/>
<line x1="416.5" y1="268.7" x2="423.5" y2="268.7" stroke="#dadada" stroke-width="1"/>
<line x1="416.5" y1="271.3" x2="423.5" y2="271.3" stroke="#dadada" stroke-width="1"/>
<line x1="416.5" y1="273.9" x2="423.5" y2="273.9" stroke="#dadada" stroke-width="1"/>
<line x1="416.5" y1="276.5" x2="423.5" y2="276.5" stroke="#dadada" stroke-width="1"/>
<line x1="416.5" y1="279.1" x2="423.5" y2="279.1" stroke="#dadada" stroke-width="1"/>
<line x1="416.5" y1="281.7" x2="423.5" y2="281.7" stroke="#dadada" stroke-width="1"/>
<line x1="416.5" y1="284.3" x2="423.5" y2="284.3" stroke="#dadada" stroke-width="1"/>
<line x1="416.5" y1="286.9" x2="423.5" y2="286.9" stroke="#dadada" stroke-width="1"/>
<line x1="416.5" y1="289.5" x2="423.5" y2="289.5" stroke="#dadada" stroke-width="1"/>
<line x1="416.5" y1="292.1" x2="423.5" y2="292.1" stroke="#dadada" stroke-width="1"/>
<line x1="398.5" y1="277.5" x2="408" y2="277.5" stroke="#c0c0c0" stroke-width="1"/>
<line x1="399.5" y1="273.5" x2="407" y2="281.5" stroke="#c0c0c0" stroke-width="1"/>
<line x1="399.5" y1="281.5" x2="407" y2="273.5" stroke="#c0c0c0" stroke-width="1"/>
<rect x="264.5" y="273.5" width="26.5" height="43.5" rx="4" fill="none" stroke="#9a9a9a" stroke-width="1"/>
<rect x="266.5" y="275" width="23" height="18.5" rx="3.5" fill="none" stroke="#9a9a9a" stroke-width="1"/>
<line x1="269.5" y1="297.5" x2="269.5" y2="315" stroke="#9a9a9a" stroke-width="1"/>
<line x1="272.5" y1="297.5" x2="272.5" y2="315" stroke="#9a9a9a" stroke-width="1"/>
<line x1="275" y1="297.5" x2="275" y2="315" stroke="#9a9a9a" stroke-width="1"/>
<line x1="277.5" y1="297.5" x2="277.5" y2="315" stroke="#9a9a9a" stroke-width="1"/>
<line x1="280" y1="297.5" x2="280" y2="315" stroke="#9a9a9a" stroke-width="1"/>
<line x1="283" y1="297.5" x2="283" y2="315" stroke="#9a9a9a" stroke-width="1"/>
<line x1="285.5" y1="297.5" x2="285.5" y2="315" stroke="#9a9a9a" stroke-width="1"/>
<line x1="266" y1="296" x2="274.5" y2="288" stroke="#8a8a8a" stroke-width="1.6"/>
<path d="M262.5,264.5 L315.5,264.5 A53,60 0 0 1 262.5,325" fill="none" stroke="#d8d8d8" stroke-width="1"/>
<rect x="267.5" y="401.5" width="75" height="42" fill="none" stroke="#e4e4e4" stroke-width="1"/>
<rect x="272.5" y="377.5" width="24" height="24" fill="none" stroke="#e4e4e4" stroke-width="1"/>
<rect x="312.5" y="377.5" width="25" height="24" fill="none" stroke="#e4e4e4" stroke-width="1"/>
<rect x="272.5" y="443.5" width="24" height="24" fill="none" stroke="#e4e4e4" stroke-width="1"/>
<rect x="312.5" y="443.5" width="25" height="24" fill="none" stroke="#e4e4e4" stroke-width="1"/>
<path d="M262.5,476 A53,61 0 0 1 315.5,537 L262.5,537" fill="none" stroke="#c4c4c4" stroke-width="1"/>
<rect x="525.5" y="417.5" width="41" height="10" fill="none" stroke="#dddddd" stroke-width="1"/>
<line x1="508.5" y1="423.5" x2="583.5" y2="423.5" stroke="#dddddd" stroke-width="1"/>
<rect x="507.5" y="455.5" width="70" height="37" fill="none" stroke="#dddddd" stroke-width="1"/>
<rect x="487.5" y="519.5" width="111" height="42.5" fill="none" stroke="#dddddd" stroke-width="1"/>
<rect x="496.5" y="519.5" width="93" height="33" fill="none" stroke="#dddddd" stroke-width="1"/>
<line x1="527.5" y1="519.5" x2="527.5" y2="552.5" stroke="#dddddd" stroke-width="1"/>
<line x1="558.5" y1="519.5" x2="558.5" y2="552.5" stroke="#dddddd" stroke-width="1"/>
<path d="M460.5,622.5 L494.5,588.5 A40,40 0 0 1 507,607.5" fill="none" stroke="#777" stroke-width="1"/>
<path d="M507.5,610 A48,48 0 0 1 553.5,574.5 L553.5,622" fill="none" stroke="#777" stroke-width="1"/>
<rect x="505.5" y="615.5" width="3" height="7" fill="none" stroke="#999" stroke-width="1"/>
<path d="M281.5,590 L315.5,556.5 A44,44 0 0 1 328.5,590" fill="none" stroke="#e6e6e6" stroke-width="1"/>
<path d="M327.5,590 A47,47 0 0 1 374,542.5 L375,542.5 L375,590" fill="none" stroke="#e6e6e6" stroke-width="1"/>
<path d="M687.5,590 L721.5,556.5 A44,44 0 0 1 734.5,590" fill="none" stroke="#e6e6e6" stroke-width="1"/>
<path d="M733.5,590 A47,47 0 0 1 780,542.5 L781,542.5 L781,590" fill="none" stroke="#e6e6e6" stroke-width="1"/>
<path d="M423.5,334.5 L390,334.5 A33.5,33.5 0 0 1 423.5,301" fill="none" stroke="#cacaca" stroke-width="1"/>
<line x1="379" y1="318.5" x2="435.5" y2="318.5" stroke="#c4c4c4" stroke-width="1"/>
<text x="408.8" y="315.5" font-size="11" text-anchor="middle" fill="#3c3c3c" font-weight="normal" textLength="16" lengthAdjust="spacingAndGlyphs">600</text>
<text x="408.8" y="329.3" font-size="11" text-anchor="middle" fill="#3c3c3c" font-weight="normal" textLength="21" lengthAdjust="spacingAndGlyphs">1970</text>
<path d="M484.5,357.5 L440.5,357.5 A44,44 0 0 0 484.5,401.5" fill="none" stroke="#cacaca" stroke-width="1"/>
<line x1="440" y1="379.5" x2="497.5" y2="379.5" stroke="#c4c4c4" stroke-width="1"/>
<text x="470" y="376.3" font-size="11" text-anchor="middle" fill="#3c3c3c" font-weight="normal" textLength="16" lengthAdjust="spacingAndGlyphs">800</text>
<text x="470" y="390.3" font-size="11" text-anchor="middle" fill="#3c3c3c" font-weight="normal" textLength="21" lengthAdjust="spacingAndGlyphs">1970</text>
<path d="M639.5,335.5 L639.5,291.5 A44,44 0 0 0 595.5,335.5" fill="none" stroke="#cacaca" stroke-width="1"/>
<line x1="617.5" y1="291" x2="617.5" y2="347.5" stroke="#a4a4a4" stroke-width="1"/>
<text x="0" y="0" font-size="11" text-anchor="middle" fill="#3c3c3c" textLength="16" lengthAdjust="spacingAndGlyphs" transform="translate(610.8,320.7) rotate(-90)" dy="3.96">800</text>
<text x="0" y="0" font-size="11" text-anchor="middle" fill="#3c3c3c" textLength="21" lengthAdjust="spacingAndGlyphs" transform="translate(624.7,320.5) rotate(-90)" dy="3.96">1970</text>
<path d="M662.5,335.5 L662.5,296.5 A39,39 0 0 1 701.5,335.5" fill="none" stroke="#cacaca" stroke-width="1"/>
<line x1="681.5" y1="291" x2="681.5" y2="347.5" stroke="#a4a4a4" stroke-width="1"/>
<text x="0" y="0" font-size="11" text-anchor="middle" fill="#3c3c3c" textLength="16" lengthAdjust="spacingAndGlyphs" transform="translate(673.9,320.6) rotate(-90)" dy="3.96">700</text>
<text x="0" y="0" font-size="11" text-anchor="middle" fill="#3c3c3c" textLength="21" lengthAdjust="spacingAndGlyphs" transform="translate(688.4,319.8) rotate(-90)" dy="3.96">1970</text>
<path d="M714.5,361 A39,39 0 0 1 753.5,400 L714.5,400" fill="none" stroke="#d4d4d4" stroke-width="1"/>
<line x1="701.5" y1="380.5" x2="758.5" y2="380.5" stroke="#c4c4c4" stroke-width="1"/>
<text x="720.2" y="377.4" font-size="11" text-anchor="start" fill="#3c3c3c" font-weight="normal" textLength="16" lengthAdjust="spacingAndGlyphs">700</text>
<text x="718.2" y="390.8" font-size="11" text-anchor="start" fill="#3c3c3c" font-weight="normal" textLength="21" lengthAdjust="spacingAndGlyphs">1970</text>
<path d="M626.5,414.5 L626.5,458.5 A44,44 0 0 0 670.5,414.5" fill="none" stroke="#cacaca" stroke-width="1"/>
<line x1="647.5" y1="401" x2="647.5" y2="458" stroke="#a4a4a4" stroke-width="1"/>
<text x="0" y="0" font-size="11" text-anchor="middle" fill="#3c3c3c" textLength="16" lengthAdjust="spacingAndGlyphs" transform="translate(640.6,428.5) rotate(-90)" dy="3.96">800</text>
<text x="0" y="0" font-size="11" text-anchor="middle" fill="#3c3c3c" textLength="21" lengthAdjust="spacingAndGlyphs" transform="translate(654.7,428.5) rotate(-90)" dy="3.96">1970</text>
<path d="M587,218.5 A52,46 0 0 0 639.5,264.5 L639.5,218.5" fill="none" stroke="#c8c8c8" stroke-width="1"/>
<path d="M736,218.5 A41.5,31 0 0 1 694.5,249.5" fill="none" stroke="#e8e8e8" stroke-width="1"/>
<path d="M769.5,320 A30,39 0 0 0 799.5,359" fill="none" stroke="#e8e8e8" stroke-width="1"/>
<line x1="576.5" y1="218.5" x2="576.5" y2="335.5" stroke="#dcdcdc" stroke-width="1"/>
<line x1="554.5" y1="250.5" x2="576.5" y2="250.5" stroke="#dcdcdc" stroke-width="1"/>
<line x1="554.5" y1="315.5" x2="576.5" y2="315.5" stroke="#dcdcdc" stroke-width="1"/>
<line x1="554.5" y1="249.5" x2="576.5" y2="218.5" stroke="#dcdcdc" stroke-width="1"/>
<line x1="554.5" y1="315.5" x2="576.5" y2="250.5" stroke="#dcdcdc" stroke-width="1"/>
<line x1="554.5" y1="334.5" x2="576.5" y2="315.5" stroke="#dcdcdc" stroke-width="1"/>
<rect x="654.5" y="233.5" width="23" height="40" fill="none" stroke="#b4b4b4" stroke-width="1"/>
<rect x="660.5" y="234.5" width="16.5" height="37.5" fill="none" stroke="#c8c8c8" stroke-width="1"/>
<rect x="657.5" y="252" width="5" height="3" fill="none" stroke="#999" stroke-width="0.8"/>
<path d="M718.5,327.5 L717,310 C716,292 737,292 736,310 L734.5,327.5" fill="none" stroke="#a0a0a0" stroke-width="1"/>
<rect x="704.5" y="327.5" width="44" height="8" fill="none" stroke="#a0a0a0" stroke-width="1"/>
<rect x="751.5" y="218.5" width="48" height="48" fill="none" stroke="#b0b0b0" stroke-width="1"/>
<rect x="753.5" y="220.5" width="44" height="44" fill="none" stroke="#9a9a9a" stroke-width="1" rx="6"/>
<circle cx="790" cy="257" r="2" fill="none" stroke="#9a9a9a" stroke-width="1"/>
<rect x="761.5" y="273.5" width="32" height="32" fill="none" stroke="#a8a8a8" stroke-width="1"/>
<line x1="761.5" y1="279.5" x2="793.5" y2="279.5" stroke="#c8c8c8" stroke-width="1"/>
<circle cx="777.5" cy="290" r="16" fill="#fff" stroke="#999" stroke-width="1"/>
<circle cx="766.5" cy="276.5" r="1.8" fill="none" stroke="#999" stroke-width="0.8"/>
<rect x="766.5" y="305.5" width="22" height="3" fill="none" stroke="#a8a8a8" stroke-width="1"/>
<path d="M799.5,366.5 L772,366.5 Q768.5,366.5 768.5,370 L768.5,393.5 Q768.5,396.5 772,396.5 L799.5,396.5" fill="#fff" stroke="#a0a0a0" stroke-width="1"/>
<line x1="772.5" y1="367" x2="772.5" y2="396" stroke="#c0c0c0" stroke-width="1"/>
<text x="0" y="0" font-size="12.6" text-anchor="middle" fill="#333" transform="translate(785.2,381.5) rotate(-90)" dy="4.54">TČ</text>
<rect x="762.5" y="450.5" width="37" height="70" fill="none" stroke="#e2e2e2" stroke-width="1"/>
<rect x="738.5" y="473.5" width="24" height="25" fill="none" stroke="#e2e2e2" stroke-width="1"/>
<rect x="617.5" y="486.5" width="33" height="97" fill="none" stroke="#e2e2e2" stroke-width="1"/>
<line x1="617.5" y1="551.5" x2="650.5" y2="551.5" stroke="#e2e2e2" stroke-width="1"/>
<line x1="617.5" y1="551" x2="650.5" y2="486.5" stroke="#e2e2e2" stroke-width="1"/>
<line x1="617.5" y1="583" x2="650.5" y2="551.5" stroke="#e2e2e2" stroke-width="1"/>
<polygon points="244.5,200.5 818,200.5 818,601.5 629.5,601.5 629.5,633.5 432.5,633.5 432.5,601.5 244.5,601.5" fill="none" stroke="#b8b8b8" stroke-width="1"/>
<polygon points="262.5,218.5 423.5,218.5 423.5,349.5 484.5,349.5 484.5,414.5 611.5,414.5 611.5,615.5 450.5,615.5 450.5,583.5 262.5,583.5" fill="none" stroke="#b8b8b8" stroke-width="1"/>
<polygon points="430.5,218.5 545.5,218.5 545.5,342.5 706.5,342.5 706.5,407.5 491.5,407.5 491.5,272.5 484.5,272.5 484.5,342.5 430.5,342.5" fill="none" stroke="#b8b8b8" stroke-width="1"/>
<polygon points="554.5,218.5 647.5,218.5 647.5,335.5 554.5,335.5" fill="none" stroke="#b8b8b8" stroke-width="1"/>
<polygon points="654.5,218.5 799.5,218.5 799.5,266.5 748.5,266.5 748.5,335.5 654.5,335.5" fill="none" stroke="#b8b8b8" stroke-width="1"/>
<polygon points="755.5,273.5 799.5,273.5 799.5,407.5 714.5,407.5 714.5,342.5 755.5,342.5" fill="none" stroke="#b8b8b8" stroke-width="1"/>
<polygon points="617.5,414.5 799.5,414.5 799.5,583.5 617.5,583.5" fill="none" stroke="#b8b8b8" stroke-width="1"/>
<text x="0" y="0" font-size="15" fill="#262626" transform="translate(436,249.6) scale(1.05,1)">spíž</text>
<text x="0" y="0" font-size="15" fill="#262626" transform="translate(436,268.9) scale(1.05,1)">2,30 m<tspan font-size="9" dy="-6">2</tspan></text>
<text x="0" y="0" font-size="15" fill="#262626" transform="translate(587,272.4) scale(1.05,1)">zádveří</text>
<text x="0" y="0" font-size="15" fill="#262626" transform="translate(587,290.5) scale(1.05,1)">3,72 m<tspan font-size="9" dy="-6">2</tspan></text>
<text x="0" y="0" font-size="15" fill="#262626" transform="translate(685,260.3) scale(1.05,1)">koupelna</text>
<text x="0" y="0" font-size="15" fill="#262626" transform="translate(685,279.2) scale(1.05,1)">4,64 m<tspan font-size="9" dy="-6">2</tspan></text>
<text x="0" y="0" font-size="15" fill="#262626" transform="translate(736,357) scale(1.05,1)">TM</text>
<text x="0" y="0" font-size="15" fill="#262626" transform="translate(736,376.5) scale(1.05,1)">2,96 m<tspan font-size="9" dy="-6">2</tspan></text>
<text x="0" y="0" font-size="15" fill="#262626" transform="translate(530,380) scale(1.05,1)">chodba 7,09 m<tspan font-size="9" dy="-6">2</tspan></text>
<text x="0" y="0" font-size="15" fill="#262626" transform="translate(368.5,448.4) scale(1.05,1)">obytný prostor</text>
<text x="0" y="0" font-size="15" fill="#262626" transform="translate(368.5,466.6) scale(1.05,1)">s kuchyní 34,25 m<tspan font-size="9" dy="-6">2</tspan></text>
<text x="0" y="0" font-size="15" fill="#262626" transform="translate(669.5,478.6) scale(1.05,1)">pracovna</text>
<text x="0" y="0" font-size="15" fill="#262626" transform="translate(670,497.5) scale(1.05,1)">10,56 m<tspan font-size="9" dy="-6">2</tspan></text>
<text x="613.2" y="195" font-size="11.5" text-anchor="middle" fill="#3c3c3c" font-weight="normal" textLength="49" lengthAdjust="spacingAndGlyphs">1060x2100</text>
<text x="715.6" y="195" font-size="11.5" text-anchor="middle" fill="#3c3c3c" font-weight="normal" textLength="43.5" lengthAdjust="spacingAndGlyphs">800x1200</text>
<text x="328.8" y="614.4" font-size="11.5" text-anchor="middle" fill="#3c3c3c" font-weight="normal" textLength="49.3" lengthAdjust="spacingAndGlyphs">1800x1200</text>
<text x="733.6" y="614.4" font-size="11.5" text-anchor="middle" fill="#3c3c3c" font-weight="normal" textLength="49.3" lengthAdjust="spacingAndGlyphs">1800x1200</text>
<text x="531.2" y="646.5" font-size="11.5" text-anchor="middle" fill="#3c3c3c" font-weight="normal" textLength="49.3" lengthAdjust="spacingAndGlyphs">2700x2100</text>
<text x="0" y="0" font-size="12.8" text-anchor="middle" fill="#3c3c3c" textLength="49.3" lengthAdjust="spacingAndGlyphs" transform="translate(234.6,295.3) rotate(-90)" dy="4.61">1200x1200</text>
<text x="0" y="0" font-size="12.8" text-anchor="middle" fill="#3c3c3c" textLength="49.3" lengthAdjust="spacingAndGlyphs" transform="translate(234.6,505.5) rotate(-90)" dy="4.61">1200x1200</text>
<text x="0" y="0" font-size="12.8" text-anchor="middle" fill="#3c3c3c" textLength="44" lengthAdjust="spacingAndGlyphs" transform="translate(826.8,340.1) rotate(-90)" dy="4.61">800x1200</text>
</svg></div></body></html>
